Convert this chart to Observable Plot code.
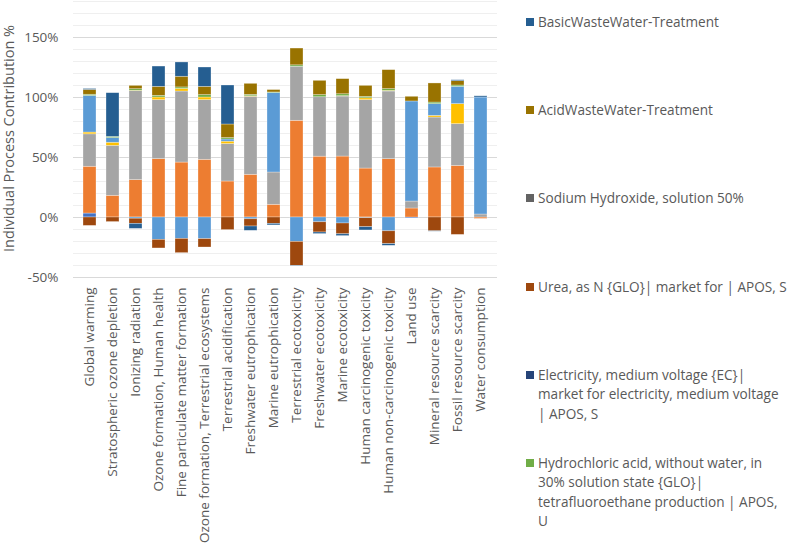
<!DOCTYPE html>
<html>
<head>
<meta charset="utf-8">
<script src="https://cdn.jsdelivr.net/npm/d3@7"></script>
<script src="https://cdn.jsdelivr.net/npm/@observablehq/plot@0.6"></script>
<style>
  body { margin: 0; background: #fff; font-family: "Open Sans", sans-serif; }
  #wrap { position: relative; width: 791px; height: 551px; overflow: hidden; }
  #chart { position: absolute; left: 0; top: 0; }
  .item { position: absolute; left: 526px; width: 249px; font-size: 13.6px; line-height: 19.5px; color: #595959; padding-left: 12px; }
  .sw { position: absolute; left: 0; top: 6px; width: 8px; height: 8px; }
</style>
</head>
<body>
<div id="wrap"><div id="chart"></div><div id="legend"></div></div>
<script>
const categories = [
  "Global warming", "Stratospheric ozone depletion", "Ionizing radiation",
  "Ozone formation, Human health", "Fine particulate matter formation",
  "Ozone formation, Terrestrial ecosystems", "Terrestrial acidification",
  "Freshwater eutrophication", "Marine eutrophication", "Terrestrial ecotoxicity",
  "Freshwater ecotoxicity", "Marine ecotoxicity", "Human carcinogenic toxicity",
  "Human non-carcinogenic toxicity", "Land use", "Mineral resource scarcity",
  "Fossil resource scarcity", "Water consumption"
];

// stack order (bottom to top for positive values, top to bottom for negative values)
const seriesNames = [
  "Other process A", "Other process B", "Other process C", "Other process D", "Other process E",
  "Urea, as N {GLO}| market for | APOS, S",
  "Hydrochloric acid, without water, in 30% solution state {GLO}| tetrafluoroethane production | APOS, U",
  "AcidWasteWater-Treatment",
  "BasicWasteWater-Treatment"
];
const seriesColors = ["#4472C4", "#ED7D31", "#A5A5A5", "#FFC000", "#5B9BD5", "#9E480E", "#70AD47", "#997300", "#255E91"];

const seriesA = [3.3, 0, 0, 0, 0, 0, 0, 0, 0, 0, 0, 0, 0, 0, -0.8, 0, 0, 0];
const seriesB = [39, 18.1, 31.2, 48.7, 45.8, 48.1, 30, 35.6, 10.6, 80.6, 50.7, 50.8, 40.8, 48.6, 7.5, 41.7, 43, -1.2];
const seriesC = [27, 41.6, 74.1, 49.1, 59.2, 49.7, 31.2, 65, 26.9, 45, 49.5, 50, 57, 56.4, 5.8, 41.6, 34.8, 2.5];
const seriesD = [1.5, 2.6, 0.3, 2.2, 2.2, 2.2, 2, 0.4, 0, 0, 0, 0.3, 1.5, 0.5, 0, 1.4, 16.7, 0];
const seriesE = [30.5, 3.9, -1, -18.6, -17.8, -18, 1.8, -1.5, 66.2, -20.3, -4, -5, -0.6, -11.5, 83.4, 9.8, 14.4, 97.5];
const urea = [-7, -3.8, -4.3, -7.2, -11.9, -7, -10.5, -6, -5.3, -20, -8.5, -9, -7.5, -10.7, 0, -11.5, -14.5, 0];
const hydrochloric = [1, 1, 1.3, 1.4, 1.2, 2, 1.2, 1.2, 0.5, 1.2, 1.8, 1.6, 1.2, 1.5, 0, 1.3, 1.1, 0];
const acidWW = [4, 0, 2.8, 7.5, 8.9, 6.9, 11.3, 9.2, 2, 14, 11.9, 12.6, 9.2, 15.8, 3.9, 15.9, 3.6, 0];
const basicWW = [0.8, 36.4, -4.2, 16.9, 11.9, 16.1, 32.5, -3.6, -1.3, -0.5, -1.3, -1.5, -2.7, -1.4, 0, -0.3, 0.8, 1];
const seriesValues = [seriesA, seriesB, seriesC, seriesD, seriesE, urea, hydrochloric, acidWW, basicWW];

const majorTicks = [-50, 0, 50, 100, 150];
const minorTicks = [-40, -30, -20, -10, 10, 20, 30, 40, 60, 70, 80, 90, 110, 120, 130, 140, 160, 170, 180];
const yTitle = "Individual Process Contribution %";

const legendNames = [
  "BasicWasteWater-Treatment",
  "AcidWasteWater-Treatment",
  "Sodium Hydroxide, solution 50%",
  "Urea, as N {GLO}| market for | APOS, S",
  "Electricity, medium voltage {EC}| market for electricity, medium voltage | APOS, S",
  "Hydrochloric acid, without water, in 30% solution state {GLO}| tetrafluoroethane production | APOS, U"
];
const legendColors = ["#255E91", "#997300", "#636363", "#9E480E", "#264478", "#70AD47"];

const rows = [];
seriesNames.forEach((s, i) => {
  categories.forEach((c, j) => {
    const v = seriesValues[i][j];
    if (v !== 0) rows.push({category: c, series: s, value: v});
  });
});

const chart = Plot.plot({
  width: 520,
  height: 551,
  marginLeft: 73,
  marginRight: 23,
  marginTop: 1,
  marginBottom: 274,
  style: {fontFamily: "Open Sans, sans-serif", fontSize: "13.5px", color: "#595959", background: "white"},
  x: {domain: categories, paddingInner: 0.436, paddingOuter: 0.218, label: null, tickRotate: -90, tickSize: 0, tickPadding: 10},
  y: {domain: [-50, 180], label: null, ticks: majorTicks, tickFormat: d => d + "%", tickSize: 0, tickPadding: 15},
  color: {domain: seriesNames, range: seriesColors},
  marks: [
    Plot.ruleY(minorTicks, {stroke: "#EFEFEF"}),
    Plot.ruleY(majorTicks, {stroke: "#D9D9D9"}),
    Plot.barY(rows, {x: "category", y: "value", fill: "series", stroke: "white", strokeWidth: 0.6, strokeOpacity: 0.5}),
    Plot.text([yTitle], {text: d => d, frameAnchor: "left", textAnchor: "middle", lineAnchor: "middle", dx: -64, dy: -1, rotate: -90, fontSize: 14.5, fill: "#595959"})
  ]
});
document.getElementById("chart").appendChild(chart);

const legend = document.getElementById("legend");
legendNames.forEach((name, i) => {
  const item = document.createElement("div");
  item.className = "item";
  item.style.top = (12.25 + i * 88.1) + "px";
  const sw = document.createElement("div");
  sw.className = "sw";
  sw.style.background = legendColors[i];
  item.appendChild(sw);
  item.appendChild(document.createTextNode(name));
  legend.appendChild(item);
});
</script>
</body>
</html>
